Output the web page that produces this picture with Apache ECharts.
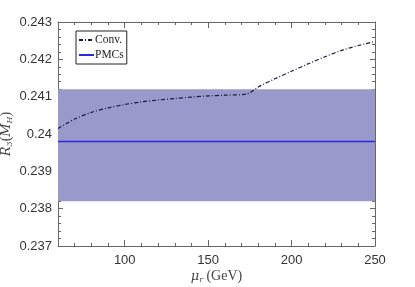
<!DOCTYPE html>
<html><head><meta charset="utf-8">
<script src="https://cdn.jsdelivr.net/npm/echarts@6/dist/echarts.min.js"></script>
<style>html,body{margin:0;padding:0;background:#fff}#c{width:415px;height:287px}</style>
</head><body><div id="c"></div>
<script>
var convX = [60, 70, 80, 90, 100, 110, 120, 130, 140, 150, 160, 173, 180, 190, 200, 210, 220, 230, 240, 250];
var convY = [0.24015, 0.24040, 0.24058, 0.24070, 0.24079, 0.24086, 0.24091, 0.24095, 0.24099, 0.24102, 0.24104, 0.24107, 0.24126, 0.24148, 0.24168, 0.24188, 0.24207, 0.24224, 0.24237, 0.24248];
var pmcValue = 0.2398;
var pmcBand = [0.2382, 0.2412];
var xRange = [60, 250];
var yRange = [0.237, 0.243];
var xMajorTicks = [100, 150, 200, 250];
var seriesNames = ['Conv.', 'PMCs'];

var convData = convX.map(function (x, i) { return [x, convY[i]]; });
var pmcData = [[xRange[0], pmcValue], [xRange[1], pmcValue]];

var chart = echarts.init(document.getElementById('c'), null, {renderer: 'canvas'});
var frame = '#666';
function xAx(opts) {
  return Object.assign({
    type: 'value', min: xRange[0], max: xRange[1], interval: 10,
    axisLine: {show: true, lineStyle: {color: frame, width: 1}},
    axisTick: {show: true, inside: true, length: 3, lineStyle: {color: frame}},
    axisLabel: {show: false}, splitLine: {show: false}
  }, opts);
}
function yAx(opts) {
  return Object.assign({
    type: 'value', min: yRange[0], max: yRange[1], interval: 0.001,
    axisLine: {show: true, lineStyle: {color: frame, width: 1}},
    axisTick: {show: true, inside: true, length: 5, lineStyle: {color: frame}},
    minorTick: {show: true, splitNumber: 5, length: 3, lineStyle: {color: frame}},
    axisLabel: {show: false}, splitLine: {show: false}
  }, opts);
}
chart.setOption({
  animation: false,
  grid: {left: 58, right: 40, top: 22, bottom: 41, containLabel: false, outerBoundsMode: 'none'},
  xAxis: [
    xAx({position: 'bottom',
      axisLabel: {show: true, color: '#333', fontSize: 13, fontFamily: 'Liberation Sans', margin: 8,
        formatter: function (v) { return v % 50 === 0 && v > 60 ? String(v) : ''; }},
      name: '{m|μ}{s|r} {t|(GeV)}', nameLocation: 'middle', nameGap: 23, nameMoveOverlap: false,
      nameTextStyle: {rich: {
        m: {fontFamily: 'DejaVu Serif', fontStyle: 'italic', fontSize: 13, color: '#444'},
        s: {fontFamily: 'DejaVu Serif', fontStyle: 'italic', fontSize: 8, color: '#444', padding: [7, 0, 0, 0]},
        t: {fontFamily: 'Liberation Serif', fontSize: 14, color: '#444'}
      }}
    }),
    xAx({position: 'top'}),
    xAx({position: 'bottom', axisLine: {show: false}, axisTick: {show: true, inside: true, length: 6, customValues: xMajorTicks, lineStyle: {color: frame}}}),
    xAx({position: 'top', axisLine: {show: false}, axisTick: {show: true, inside: true, length: 6, customValues: xMajorTicks, lineStyle: {color: frame}}})
  ],
  yAxis: [
    yAx({position: 'left',
      axisLabel: {show: true, color: '#333', fontSize: 13, fontFamily: 'Liberation Sans', margin: 6,
        formatter: function (v) { return String(+v.toFixed(3)); }},
      name: '{r|R̃}{s|3}{t|(}{r|M}{s|H}{t|)}', nameLocation: 'middle', nameGap: 44, nameRotate: 90, nameMoveOverlap: false,
      nameTextStyle: {rich: {
        r: {fontFamily: 'DejaVu Serif', fontStyle: 'italic', fontSize: 13, color: '#444'},
        s: {fontFamily: 'DejaVu Serif', fontStyle: 'italic', fontSize: 8, color: '#444', padding: [7, 0, 0, 0]},
        t: {fontFamily: 'Liberation Serif', fontSize: 14, color: '#444'}
      }}
    }),
    yAx({position: 'right'})
  ],
  legend: {
    orient: 'vertical', left: 76, top: 31,
    data: seriesNames,
    itemWidth: 15, itemHeight: 10, itemGap: 3, padding: [3, 3, 3, 2],
    borderColor: '#222', borderWidth: 1, backgroundColor: '#fff', borderRadius: 0,
    itemStyle: {color: 'rgba(0,0,0,0)', borderWidth: 0, opacity: 0},
    textStyle: {fontFamily: 'Liberation Serif', fontSize: 11.5, color: '#222', padding: [0, 0, 0, -4]}
  },
  series: [
    {
      name: 'band', type: 'line', data: [], silent: true,
      markArea: {silent: true, itemStyle: {color: '#9999cc', opacity: 1},
        data: [[{yAxis: pmcBand[0]}, {yAxis: pmcBand[1]}]]}
    },
    {
      name: seriesNames[1], type: 'line', data: pmcData, symbol: 'none', z: 3,
      lineStyle: {color: '#2a2ae0', width: 1.5}, itemStyle: {color: '#2a2ae0'}
    },
    {
      name: seriesNames[0], type: 'line', data: convData, symbol: 'none', smooth: 0.3, z: 4,
      lineStyle: {color: '#1a1a40', width: 1.2, type: [4, 2, 1, 2]}, itemStyle: {color: '#1a1a40'}
    }
  ]
});
</script></body></html>
